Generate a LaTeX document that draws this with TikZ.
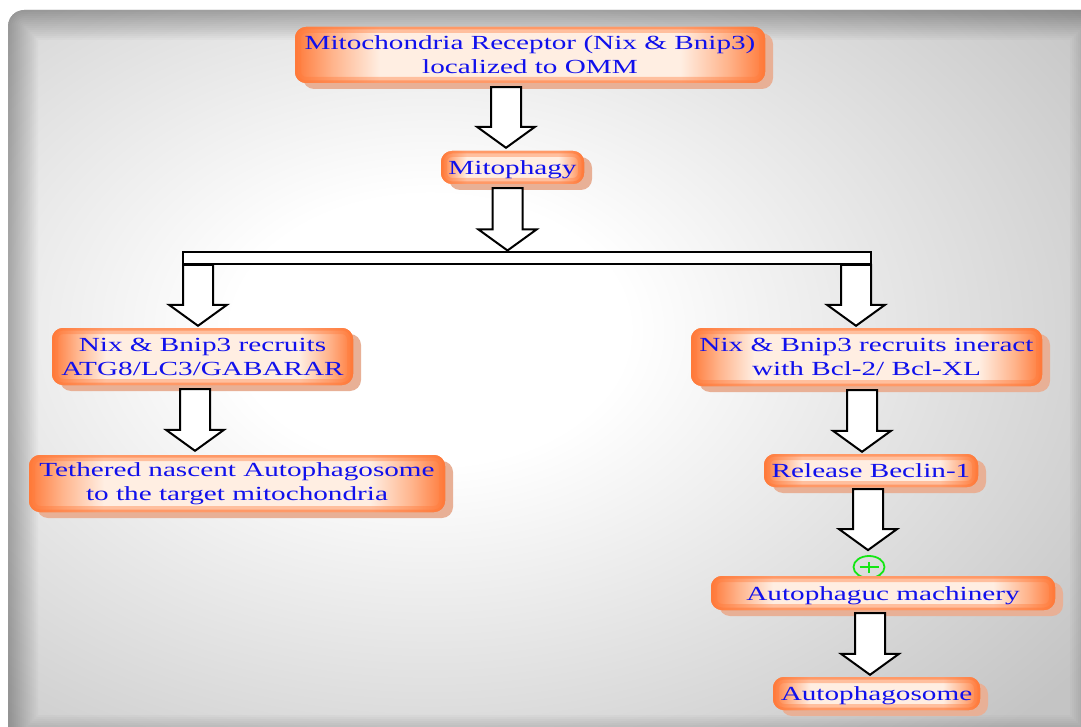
\documentclass[tikz,border=0pt]{standalone}
\usepackage{fontspec}
\newfontfamily\boxfont[FakeStretch=1.46]{Liberation Serif}
\usetikzlibrary{calc,shapes.geometric}

\definecolor{boxorange}{RGB}{255,122,58}
\definecolor{boxmid}{RGB}{255,180,140}
\definecolor{boxlight}{RGB}{255,238,226}
\definecolor{boxshadow}{RGB}{232,176,150}
\definecolor{textblue}{RGB}{16,16,236}
\definecolor{bgedge}{RGB}{196,196,196}
\definecolor{plusgreen}{RGB}{20,230,20}

% light centre, orange side edges
\pgfdeclarehorizontalshading{boxglow}{100bp}{color(0bp)=(boxorange); color(25bp)=(boxorange);
  color(29bp)=(boxmid); color(34bp)=(boxlight); color(66bp)=(boxlight); color(71bp)=(boxmid);
  color(75bp)=(boxorange); color(100bp)=(boxorange)}
% pale grey backdrop, white towards the upper left middle
\pgfdeclareradialshading{bgglow}{\pgfpoint{0bp}{0bp}}{color(0bp)=(white); color(3bp)=(white);
  color(12.5bp)=(bgedge); color(50bp)=(bgedge)}

\tikzset{
  box/.style={rounded corners=11pt, inner sep=0pt, text=textblue, align=center,
    font=\boxfont\fontsize{20}{24}\selectfont,
    preaction={fill=boxshadow, transform canvas={shift={(8pt,-6pt)}}},
    fill=boxorange,
    path picture={
      \shade[shading=boxglow] (path picture bounding box.south west) rectangle (path picture bounding box.north east);
      \draw[boxorange, line width=12pt, opacity=0.4, rounded corners=11pt]
        (path picture bounding box.south west) rectangle (path picture bounding box.north east);
      \draw[boxorange, line width=5pt, opacity=0.55, rounded corners=11pt]
        (path picture bounding box.south west) rectangle (path picture bounding box.north east);
    }},
  oneline/.style={text height=14pt, text depth=0pt},
  blockarr/.style={draw=black, fill=white, line width=2pt, line join=miter},
  bar/.style={draw=black, fill=white, line width=2pt, inner sep=0pt},
}

% hollow block arrow: #1 x of its axis, #2 source node, #3 target node,
% #4 gap below the source, #5 gap above the target
\newcommand\blockarrow[5]{%
  \draw[blockarr] let \p1=(#2.south), \p2=(#3.north) in
    ({#1pt-15pt},{\y1-#4pt}) -- ({#1pt+15pt},{\y1-#4pt})
    -- ({#1pt+15pt},{\y2+#5pt+21pt}) -- ({#1pt+29pt},{\y2+#5pt+21pt})
    -- ({#1pt},{\y2+#5pt}) -- ({#1pt-29pt},{\y2+#5pt+21pt})
    -- ({#1pt-15pt},{\y2+#5pt+21pt}) -- cycle;}

\begin{document}
\begin{tikzpicture}[x=1pt,y=-1pt]
\useasboundingbox (0,0) rectangle (1081,727);

% backdrop panel with a soft darker rim
\begin{scope}
  \clip[rounded corners=16pt] (8,10) rectangle (1100,745);
  \shade[shading=bgglow] (430,330) ellipse [x radius=1640, y radius=1120];
  \foreach \w in {60,56,...,4}
    \draw[black, opacity=0.018, line width=\w pt, rounded corners=16pt] (8,10) rectangle (1100,745);
\end{scope}

% boxes
\node[box, minimum width=470pt, minimum height=56pt] (recep) at (530,55)
  {Mitochondria Receptor (Nix \& Bnip3)\\localized to OMM};
\node[box, oneline, minimum width=143pt, minimum height=33pt] (mito) at (512.5,167.5) {Mitophagy};
\node[bar, minimum width=688pt, minimum height=12pt] (bar) at (527,258) {};
\node[box, minimum width=301pt, minimum height=57pt] (lc3) at (202.5,356.5)
  {Nix \& Bnip3 recruits\\ATG8/LC3/GABARAR};
\node[box, minimum width=416pt, minimum height=57pt] (tether) at (237,483.5)
  {Tethered nascent Autophagosome\\to the target mitochondria};
\node[box, minimum width=351pt, minimum height=58pt] (bcl) at (866.5,357)
  {Nix \& Bnip3 recruits ineract\\with Bcl-2/ Bcl-XL};
\node[box, oneline, minimum width=214pt, minimum height=33pt] (beclin) at (871,470.5) {Release Beclin-1};
\node[ellipse, draw=plusgreen, line width=1.8pt, minimum width=31pt, minimum height=22pt, inner sep=0pt]
  (plus) at (869,567) {};
\draw[plusgreen, line width=1.8pt]
  ([xshift=-9.5pt]plus.center) -- ([xshift=9.5pt]plus.center)
  ([yshift=-5.5pt]plus.center) -- ([yshift=5.5pt]plus.center);
\node[box, oneline, minimum width=344pt, minimum height=34pt] (mach) at (883,593) {Autophaguc machinery};
\node[box, oneline, minimum width=207pt, minimum height=33pt] (phago) at (876.5,693.5) {Autophagosome};

% block arrows
\blockarrow{506}{recep}{mito}{4}{3}
\blockarrow{507.5}{mito}{bar}{4}{0.5}
\blockarrow{198}{bar}{lc3}{0}{2}
\blockarrow{856}{bar}{bcl}{0}{2}
\blockarrow{195}{lc3}{tether}{4}{4}
\blockarrow{862}{bcl}{beclin}{4}{2}
\blockarrow{868}{beclin}{plus}{2}{5}
\blockarrow{870}{mach}{phago}{3}{2}
\end{tikzpicture}
\end{document}
